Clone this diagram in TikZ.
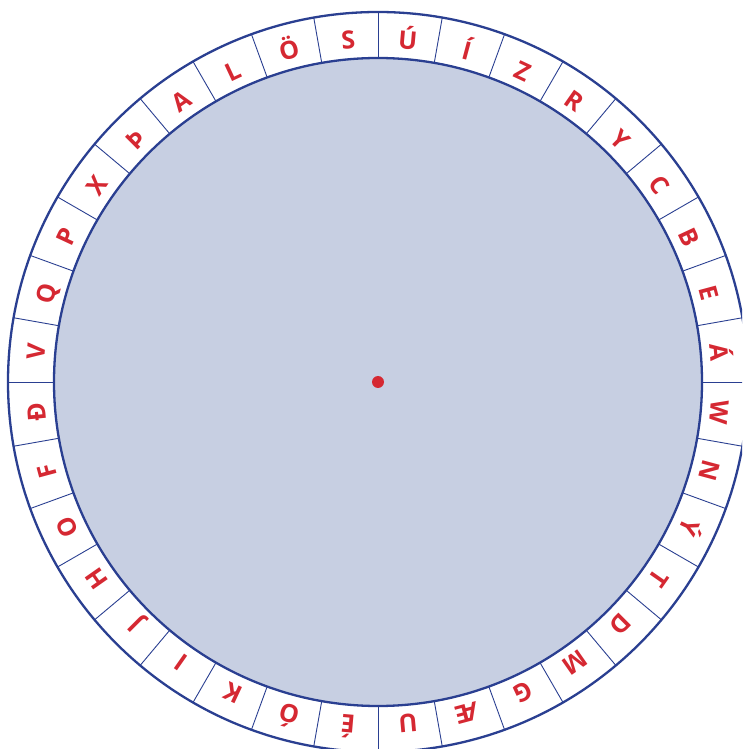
\documentclass[tikz,border=0pt]{standalone}
\usepackage{fontspec}
\setmainfont{Open Sans}
\usetikzlibrary{positioning}
\definecolor{wheelblue}{RGB}{42,63,145}
\definecolor{wheelfill}{RGB}{199,207,226}
\definecolor{letterred}{RGB}{213,40,50}
\tikzstyle{ring} = [circle, draw=wheelblue, line width=2.3pt, inner sep=0pt, outer sep=0pt]
\tikzstyle{spoke} = [draw=wheelblue, line width=0.9pt]
\tikzstyle{letter} = [text=letterred, font=\fontsize{25}{28}\selectfont\bfseries, inner sep=0pt, anchor=base]

\begin{document}
\begin{tikzpicture}[x=1pt,y=1pt]
    \clip (-378,-367) rectangle (364,382);
    \node (outer) [ring, minimum size=740pt] at (0,0) {};
    \node (inner) [ring, fill=wheelfill, minimum size=648pt] at (0,0) {};
    \node (pin) [circle, fill=letterred, minimum size=12pt, inner sep=0pt] at (0,0) {};

    \foreach \a in {0,10,...,350}
        \draw [spoke] (inner.\a) -- (outer.\a);

    % letters clockwise from the top
    \foreach \l [count=\i from 0] in {Ú,Í,Z,R,Y,C,B,E,Á,W,N,Ý,T,D,M,G,Æ,U,É,Ó,K,I,J,H,O,F,Ð,V,Q,P,X,Þ,A,L,Ö,S}
        \node (l\i) [letter, rotate={-5-10*\i}] at ({85-10*\i}:334) {\l};
\end{tikzpicture}
\end{document}
